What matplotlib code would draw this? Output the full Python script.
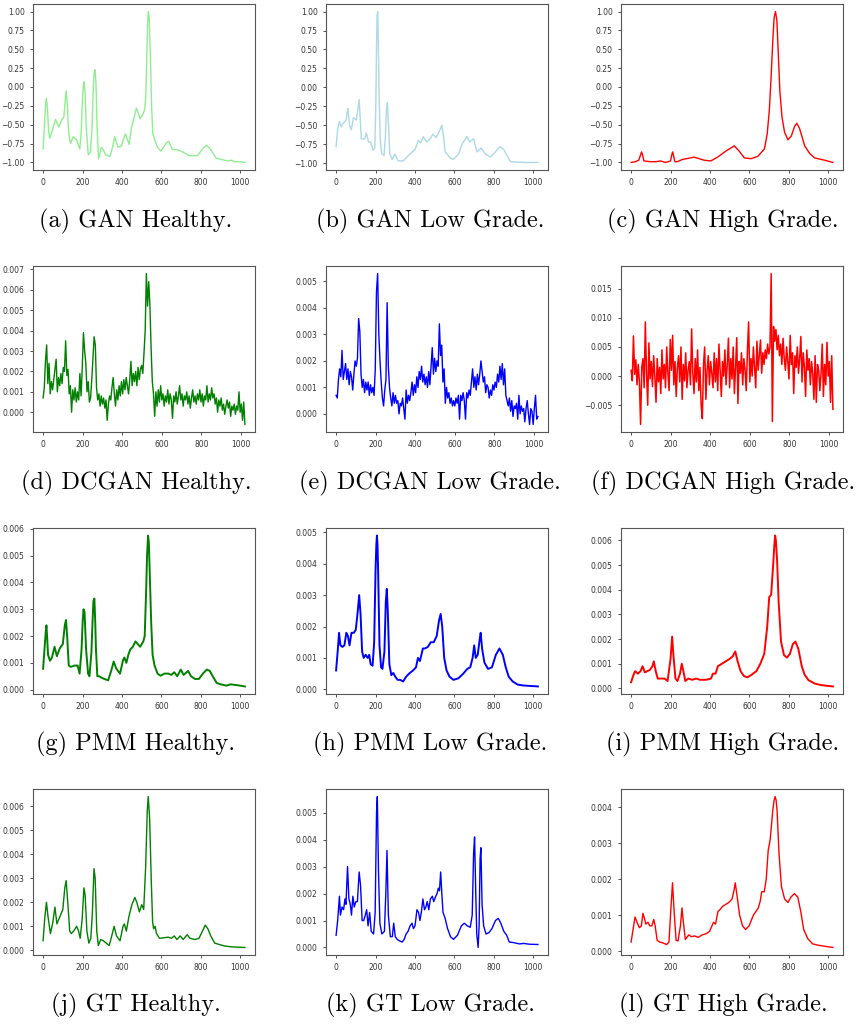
"""
Spectra comparison grid: GAN / DCGAN / PMM / ground truth for
healthy, low grade and high grade samples.
"""

import matplotlib
matplotlib.use("Agg")
import matplotlib.pyplot as plt

# ── Row 1: GAN (normalised to [-1, 1]) ─────────────

gan_healthy_x = [0, 8, 13, 17, 22, 28, 34, 50, 63, 80, 97, 105, 111, 117, 123,
                 130, 139, 152, 170, 186, 193, 199, 204, 208, 213, 219, 229,
                 240, 248, 254, 259, 263, 268, 274, 281, 295, 305, 317, 339,
                 352, 363, 380, 397, 417, 436, 447, 460, 473, 492, 508, 515,
                 521, 526, 531, 534, 538, 543, 550, 556, 566, 580, 597, 625,
                 636, 656, 681, 707, 741, 783, 808, 829, 847, 876, 902, 936,
                 956, 969, 1000, 1023]
gan_healthy_y = [-0.82, -0.45, -0.22, -0.15, -0.28, -0.58, -0.68, -0.55,
                 -0.43, -0.53, -0.42, -0.40, -0.22, -0.05, -0.25, -0.62,
                 -0.75, -0.66, -0.70, -0.82, -0.60, -0.20, 0.02, 0.07, -0.08,
                 -0.55, -0.90, -0.86, -0.55, -0.05, 0.18, 0.23, 0.05, -0.55,
                 -0.95, -0.80, -0.83, -0.90, -0.92, -0.80, -0.66, -0.80,
                 -0.78, -0.62, -0.76, -0.55, -0.42, -0.28, -0.42, -0.35,
                 -0.30, -0.10, 0.45, 0.92, 1.00, 0.90, 0.50, -0.25, -0.62,
                 -0.70, -0.80, -0.85, -0.74, -0.72, -0.83, -0.83, -0.86,
                 -0.91, -0.91, -0.82, -0.77, -0.82, -0.94, -0.96, -0.98,
                 -0.97, -0.99, -0.99, -1.00]

gan_low_x = [0, 8, 17, 26, 34, 51, 56, 60, 64, 68, 77, 88, 102, 110, 117, 122,
             128, 145, 153, 165, 175, 187, 196, 201, 205, 208, 211, 214, 218,
             224, 231, 243, 250, 255, 260, 265, 272, 284, 298, 315, 340, 374,
             400, 417, 429, 442, 459, 476, 490, 507, 525, 536, 545, 553, 578,
             595, 621, 638, 663, 677, 697, 714, 735, 757, 782, 808, 830, 850,
             884, 952, 1023]
gan_low_y = [-0.78, -0.55, -0.45, -0.52, -0.48, -0.43, -0.33, -0.28, -0.38,
             -0.50, -0.56, -0.40, -0.43, -0.30, -0.16, -0.40, -0.68, -0.68,
             -0.60, -0.72, -0.72, -0.83, -0.80, -0.30, 0.55, 0.95, 1.00, 0.60,
             -0.10, -0.70, -0.87, -0.90, -0.65, -0.30, -0.20, -0.45, -0.87,
             -0.95, -0.88, -0.97, -0.97, -0.88, -0.82, -0.70, -0.73, -0.65,
             -0.72, -0.68, -0.62, -0.66, -0.57, -0.50, -0.65, -0.85, -0.93,
             -0.95, -0.88, -0.75, -0.65, -0.72, -0.68, -0.85, -0.80, -0.88,
             -0.92, -0.85, -0.78, -0.82, -0.98, -0.99, -0.99]

gan_high_x = [0, 22, 39, 48, 53, 58, 65, 98, 124, 149, 175, 200, 206, 211, 216,
              222, 234, 260, 319, 370, 404, 438, 480, 523, 548, 574, 608, 642,
              676, 690, 701, 710, 718, 725, 732, 739, 746, 754, 765, 778, 795,
              812, 829, 840, 854, 880, 905, 930, 981, 1023]
gan_high_y = [-1.00, -0.99, -0.97, -0.90, -0.86, -0.90, -0.98, -0.99, -0.99,
              -0.98, -1.00, -0.98, -0.90, -0.86, -0.92, -0.99, -0.99, -0.96,
              -0.93, -0.97, -0.98, -0.93, -0.85, -0.78, -0.85, -0.94, -0.95,
              -0.92, -0.82, -0.62, -0.30, 0.15, 0.60, 0.92, 1.00, 0.88, 0.45,
              -0.05, -0.40, -0.60, -0.70, -0.65, -0.52, -0.48, -0.55, -0.78,
              -0.88, -0.94, -0.97, -1.00]

# ── Row 2: DCGAN (noisy, sampled every 6 channels) ─

dcgan_x = list(range(0, 1021, 6))

dcgan_healthy_y = [
    0.0007, 0.0012, 0.0025, 0.0033, 0.0014, 0.0024, 0.0009, 0.0015, 0.0011, 0.0016,
    0.0021, 0.0026, 0.0010, 0.0017, 0.0013, 0.0019, 0.0014, 0.0022, 0.0020, 0.0035,
    0.0018, 0.0021, 0.0009, 0.0013, 0.0000, 0.0011, 0.0006, 0.0012, 0.0005, 0.0010,
    0.0006, 0.0019, 0.0008, 0.0022, 0.0039, 0.0030, 0.0024, 0.0010, 0.0015, 0.0005,
    0.0007, 0.0016, 0.0027, 0.0037, 0.0033, 0.0012, 0.0006, 0.0009, 0.0003, 0.0008,
    0.0004, 0.0007, 0.0002, 0.0006, -0.0004, 0.0004, 0.0008, 0.0006, 0.0012, 0.0017,
    0.0009, 0.0003, 0.0011, 0.0006, 0.0013, 0.0008, 0.0015, 0.0009, 0.0016, 0.0011,
    0.0017, 0.0013, 0.0009, 0.0016, 0.0025, 0.0013, 0.0019, 0.0015, 0.0020, 0.0013,
    0.0022, 0.0016, 0.0021, 0.0023, 0.0019, 0.0029, 0.0040, 0.0068, 0.0052, 0.0064,
    0.0052, 0.0031, 0.0015, 0.0009, -0.0002, 0.0010, 0.0003, 0.0011, 0.0005, 0.0013,
    0.0006, 0.0009, 0.0003, 0.0008, 0.0005, 0.0011, 0.0004, 0.0009, 0.0006, -0.0003,
    0.0008, 0.0005, 0.0010, 0.0004, 0.0008, 0.0013, 0.0006, 0.0009, 0.0003, 0.0008,
    0.0006, 0.0010, 0.0004, 0.0008, 0.0002, 0.0007, 0.0011, 0.0005, 0.0008, 0.0004,
    0.0009, 0.0006, 0.0011, 0.0005, 0.0009, 0.0003, 0.0008, 0.0006, 0.0013, 0.0005,
    0.0009, 0.0006, 0.0012, 0.0007, 0.0009, 0.0004, 0.0007, 0.0000, 0.0006, 0.0003,
    0.0007, 0.0001, 0.0004, -0.0001, 0.0003, 0.0006, 0.0002, 0.0005, -0.0002, 0.0003,
    0.0001, 0.0004, -0.0001, 0.0003, 0.0001, 0.0010, 0.0000, 0.0004, -0.0004, 0.0005,
    -0.0006]

dcgan_low_y = [
    0.0007, 0.0006, 0.0013, 0.0017, 0.0014, 0.0024, 0.0013, 0.0016, 0.0019, 0.0013,
    0.0017, 0.0011, 0.0016, 0.0014, 0.0009, 0.0015, 0.0020, 0.0018, 0.0021, 0.0036,
    0.0031, 0.0015, 0.0010, 0.0013, 0.0008, 0.0012, 0.0009, 0.0012, 0.0007, 0.0011,
    0.0008, 0.0010, 0.0007, 0.0017, 0.0046, 0.0053, 0.0030, 0.0020, 0.0012, 0.0006,
    0.0003, 0.0009, 0.0013, 0.0042, 0.0018, 0.0010, 0.0006, 0.0003, 0.0008, 0.0004,
    0.0007, 0.0004, 0.0005, 0.0000, 0.0004, 0.0003, 0.0006, 0.0002, -0.0002, 0.0009,
    0.0004, 0.0007, 0.0005, 0.0008, 0.0012, 0.0007, 0.0011, 0.0008, 0.0014, 0.0010,
    0.0016, 0.0013, 0.0018, 0.0012, 0.0015, 0.0011, 0.0014, 0.0010, 0.0016, 0.0011,
    0.0018, 0.0025, 0.0015, 0.0021, 0.0016, 0.0020, 0.0018, 0.0034, 0.0022, 0.0026,
    0.0012, 0.0017, 0.0004, 0.0010, 0.0006, 0.0008, 0.0004, 0.0006, 0.0003, 0.0005,
    0.0003, 0.0006, 0.0004, 0.0007, -0.0002, 0.0007, 0.0005, 0.0008, 0.0005, -0.0002,
    0.0008, 0.0006, 0.0009, 0.0007, 0.0012, 0.0017, 0.0010, 0.0014, 0.0009, 0.0015,
    0.0011, 0.0015, 0.0020, 0.0016, 0.0012, 0.0014, 0.0008, 0.0011, 0.0010, 0.0006,
    0.0009, 0.0007, 0.0011, 0.0009, 0.0012, 0.0010, 0.0015, 0.0012, 0.0018, 0.0013,
    0.0019, 0.0011, 0.0017, 0.0007, 0.0005, 0.0003, 0.0006, 0.0001, 0.0005, -0.0001,
    0.0003, 0.0002, 0.0004, -0.0002, 0.0007, 0.0000, 0.0003, 0.0001, 0.0002, -0.0003,
    0.0002, 0.0005, 0.0000, -0.0004, 0.0002, 0.0001, -0.0004, 0.0002, 0.0007, -0.0002,
    -0.0001]

dcgan_high_y = [
    0.0010, -0.0008, 0.0069, 0.0003, 0.0028, -0.0015, 0.0020, -0.0010, -0.0083, 0.0015,
    0.0030, -0.0020, 0.0093, 0.0005, -0.0050, 0.0057, -0.0005, 0.0025, -0.0018, 0.0035,
    0.0000, -0.0045, 0.0030, -0.0010, 0.0015, -0.0030, 0.0045, -0.0005, 0.0020, -0.0020,
    0.0050, 0.0005, -0.0025, 0.0063, 0.0010, 0.0070, -0.0015, 0.0025, -0.0035, 0.0015,
    0.0035, -0.0010, 0.0050, -0.0040, 0.0020, -0.0008, 0.0040, -0.0020, 0.0010, 0.0025,
    -0.0015, 0.0081, 0.0005, -0.0030, 0.0030, -0.0010, 0.0045, -0.0025, 0.0015, -0.0050,
    -0.0073, 0.0020, 0.0050, -0.0040, 0.0010, 0.0035, -0.0015, 0.0025, 0.0005, -0.0020,
    0.0040, -0.0010, 0.0030, -0.0025, 0.0055, 0.0010, -0.0035, 0.0025, 0.0000, 0.0045,
    -0.0015, 0.0020, 0.0065, -0.0020, 0.0030, -0.0005, 0.0050, -0.0030, 0.0015, 0.0066,
    -0.0047, 0.0025, 0.0005, 0.0040, -0.0015, 0.0030, 0.0010, -0.0025, 0.0045, 0.0093,
    -0.0010, 0.0030, 0.0000, 0.0050, 0.0015, -0.0020, 0.0060, 0.0010, 0.0035, 0.0062,
    0.0005, 0.0040, 0.0020, 0.0045, 0.0030, 0.0055, 0.0038, 0.0050, 0.0176, -0.0078,
    0.0085, 0.0060, 0.0080, 0.0045, 0.0070, 0.0035, 0.0055, 0.0020, 0.0065, 0.0030,
    0.0010, 0.0050, 0.0025, -0.0005, 0.0070, 0.0020, 0.0040, -0.0030, 0.0035, 0.0015,
    0.0050, 0.0005, 0.0030, 0.0068, -0.0010, 0.0040, 0.0015, -0.0035, 0.0045, 0.0010,
    0.0030, -0.0015, 0.0025, 0.0005, -0.0040, 0.0035, -0.0045, 0.0020, 0.0010, -0.0025,
    0.0005, 0.0055, -0.0035, 0.0020, -0.0015, 0.0058, 0.0000, 0.0025, -0.0045, 0.0035,
    -0.0057]

# ── Row 3: PMM ─────────────────────────────────────

pmm_healthy_x = [0, 10, 14, 17, 21, 25, 35, 45, 58, 70, 85, 100, 110, 116, 122,
                 130, 140, 160, 175, 185, 195, 201, 205, 210, 214, 218, 228,
                 235, 245, 251, 255, 260, 264, 268, 275, 285, 295, 310, 330,
                 345, 358, 370, 390, 405, 412, 422, 432, 442, 455, 468, 480,
                 492, 508, 515, 522, 527, 532, 536, 540, 548, 555, 565, 580,
                 595, 615, 635, 650, 665, 680, 698, 712, 735, 750, 770, 790,
                 810, 830, 845, 860, 880, 900, 930, 950, 1000, 1023]
pmm_healthy_y = [0.00078, 0.0018, 0.0022, 0.0024, 0.0019, 0.0013, 0.00108,
                 0.0012, 0.0016, 0.00125, 0.00155, 0.0017, 0.0024, 0.0026,
                 0.0020, 0.0009, 0.00085, 0.0009, 0.0009, 0.0006, 0.0015,
                 0.0026, 0.0030, 0.0029, 0.0022, 0.0015, 0.0006, 0.0005,
                 0.0014, 0.0026, 0.0033, 0.0034, 0.0026, 0.0015, 0.0005,
                 0.0005, 0.00045, 0.0004, 0.00035, 0.0007, 0.00105, 0.0008,
                 0.0006, 0.0011, 0.0012, 0.0010, 0.0013, 0.0015, 0.0016,
                 0.0018, 0.0017, 0.0016, 0.0018, 0.0020, 0.0036, 0.0050,
                 0.00575, 0.0055, 0.0045, 0.0025, 0.0013, 0.0009, 0.0006,
                 0.00052, 0.0006, 0.0006, 0.00055, 0.00065, 0.0005, 0.00075,
                 0.00055, 0.0007, 0.0005, 0.0004, 0.0004, 0.0006, 0.00075,
                 0.0007, 0.0005, 0.00025, 0.0002, 0.00015, 0.0002, 0.00015,
                 0.00012]

pmm_low_x = [0, 8, 15, 22, 32, 42, 52, 60, 68, 78, 90, 100, 110, 117, 124,
             132, 140, 150, 160, 168, 175, 185, 193, 200, 204, 207, 210, 213,
             220, 228, 235, 245, 252, 257, 262, 270, 280, 290, 300, 312, 325,
             340, 355, 370, 390, 405, 415, 425, 440, 450, 465, 480, 495, 510,
             522, 530, 538, 548, 560, 575, 595, 620, 645, 665, 680, 692, 700,
             708, 718, 728, 733, 740, 752, 770, 790, 810, 828, 845, 860, 875,
             895, 920, 950, 1000, 1023]
pmm_low_y = [0.0006, 0.0012, 0.0018, 0.0014, 0.00135, 0.0014, 0.0018, 0.0017,
             0.0014, 0.0018, 0.0018, 0.0019, 0.0025, 0.0030, 0.0024, 0.0012,
             0.0010, 0.0011, 0.0010, 0.0011, 0.0008, 0.00075, 0.0015, 0.0038,
             0.0046, 0.0049, 0.0046, 0.0038, 0.0014, 0.0007, 0.00065, 0.0012,
             0.0028, 0.0032, 0.0025, 0.0008, 0.00045, 0.00052, 0.0004, 0.0003,
             0.0003, 0.00025, 0.0004, 0.0005, 0.0006, 0.0007, 0.0010, 0.0009,
             0.0013, 0.0013, 0.00135, 0.0015, 0.0015, 0.0017, 0.0022, 0.0024,
             0.0020, 0.0010, 0.0006, 0.0004, 0.0003, 0.00035, 0.0005, 0.00065,
             0.0007, 0.0010, 0.0014, 0.0010, 0.0011, 0.0016, 0.0018, 0.0013,
             0.00085, 0.00065, 0.0007, 0.0011, 0.0013, 0.0011, 0.0007, 0.0004,
             0.00025, 0.00015, 0.00012, 0.0001, 0.00009]

pmm_high_x = [0, 10, 20, 35, 48, 58, 70, 82, 95, 108, 115, 125, 135, 150, 170,
              185, 200, 208, 215, 225, 235, 248, 257, 265, 275, 290, 310, 330,
              350, 380, 405, 415, 428, 440, 460, 480, 500, 515, 528, 540, 555,
              572, 590, 610, 635, 655, 675, 690, 700, 710, 720, 726, 730, 734,
              740, 748, 760, 775, 790, 805, 820, 833, 848, 865, 880, 900, 930,
              960, 1000, 1023]
pmm_high_y = [0.00025, 0.0005, 0.0007, 0.0006, 0.0007, 0.0009, 0.00065,
              0.0007, 0.00075, 0.0009, 0.0011, 0.0007, 0.0004, 0.0004, 0.0004,
              0.0003, 0.0012, 0.0021, 0.0013, 0.0004, 0.0003, 0.0006, 0.0010,
              0.0007, 0.0003, 0.0004, 0.00035, 0.0004, 0.00035, 0.00035,
              0.0004, 0.0006, 0.0006, 0.0009, 0.0010, 0.0011, 0.0012, 0.0013,
              0.0015, 0.0011, 0.0007, 0.0005, 0.00045, 0.00055, 0.0007, 0.0010,
              0.0014, 0.0025, 0.0037, 0.0038, 0.0050, 0.0058, 0.0062, 0.0060,
              0.0052, 0.0035, 0.0019, 0.00135, 0.00125, 0.0014, 0.0018, 0.0019,
              0.0016, 0.0009, 0.00055, 0.00033, 0.0002, 0.00014, 0.0001,
              0.00008]

# ── Row 4: ground truth ────────────────────────────

gt_healthy_x = [0, 8, 17, 25, 37, 48, 60, 70, 80, 90, 100, 110, 117, 125, 135,
                143, 155, 170, 180, 188, 198, 207, 213, 222, 232, 242, 250, 258,
                264, 272, 280, 292, 305, 320, 335, 348, 360, 372, 390, 405, 412,
                422, 435, 450, 465, 475, 488, 500, 510, 520, 528, 533, 540, 548,
                555, 560, 568, 575, 590, 610, 635, 650, 665, 678, 695, 710, 730,
                745, 770, 790, 808, 822, 835, 850, 870, 890, 920, 950, 990, 1023]
gt_healthy_y = [0.0004, 0.0013, 0.0020, 0.0014, 0.0007, 0.0011, 0.0018, 0.0011,
                0.0013, 0.0015, 0.0017, 0.0026, 0.0029, 0.0020, 0.0008, 0.0007,
                0.0008, 0.0010, 0.0008, 0.0005, 0.0013, 0.0026, 0.0023, 0.0008,
                0.0003, 0.0005, 0.0016, 0.0034, 0.0030, 0.0008, 0.0002, 0.00045,
                0.0004, 0.0003, 0.0002, 0.0006, 0.0010, 0.0006, 0.0004, 0.0010,
                0.0011, 0.0008, 0.0014, 0.0019, 0.0022, 0.0020, 0.0016, 0.0019,
                0.0017, 0.0035, 0.0058, 0.0064, 0.0055, 0.0030, 0.0012, 0.0009,
                0.0010, 0.0007, 0.0005, 0.00052, 0.00055, 0.0005, 0.0006,
                0.00045, 0.0006, 0.00045, 0.00065, 0.0005, 0.00045, 0.0005,
                0.0008, 0.00105, 0.0009, 0.0006, 0.0003, 0.00025, 0.00018,
                0.00015, 0.00013, 0.00012]

gt_low_x = [0, 8, 17, 22, 30, 38, 45, 50, 58, 65, 72, 78, 85, 92, 100, 108,
            117, 124, 132, 140, 148, 155, 162, 170, 178, 190, 198, 205, 209,
            215, 222, 232, 245, 252, 258, 265, 275, 285, 292, 300, 310, 320,
            335, 345, 355, 365, 375, 385, 392, 400, 410, 418, 425, 432, 440,
            448, 455, 462, 470, 478, 488, 495, 505, 512, 518, 524, 530, 536,
            542, 552, 565, 580, 595, 615, 635, 650, 665, 680, 690, 697, 702,
            708, 713, 720, 725, 730, 734, 740, 748, 760, 775, 790, 808, 822,
            835, 850, 865, 878, 900, 930, 950, 980, 1023]
gt_low_y = [0.00045, 0.0010, 0.0019, 0.0012, 0.0015, 0.0014, 0.0018, 0.0016,
            0.0030, 0.0018, 0.0016, 0.0012, 0.0019, 0.0015, 0.0017, 0.0017,
            0.0028, 0.0023, 0.0010, 0.0010, 0.0012, 0.0014, 0.0008, 0.0013,
            0.0006, 0.0005, 0.0013, 0.0050, 0.0056, 0.0028, 0.0009, 0.0005,
            0.0006, 0.0020, 0.0036, 0.0012, 0.0004, 0.0004, 0.0009, 0.0004,
            0.0003, 0.00025, 0.0002, 0.0003, 0.0005, 0.0006, 0.0008, 0.0009,
            0.0007, 0.0008, 0.0014, 0.0013, 0.0010, 0.0013, 0.0018, 0.0014,
            0.0015, 0.0017, 0.0014, 0.0018, 0.0019, 0.0017, 0.0019, 0.0020,
            0.0022, 0.0021, 0.0028, 0.0020, 0.0013, 0.0011, 0.0007, 0.0004,
            0.0003, 0.00045, 0.0008, 0.0009, 0.0008, 0.00075, 0.0012, 0.0035,
            0.0041, 0.0020, 0.0005, 0.0000, 0.0008, 0.0033, 0.0037, 0.0016,
            0.0008, 0.0005, 0.00055, 0.0007, 0.0010, 0.00108, 0.0009, 0.0006,
            0.00045, 0.0002, 0.00018, 0.00013, 0.00015, 0.00012, 0.00011]

gt_high_x = [0, 10, 20, 30, 42, 52, 60, 68, 75, 85, 95, 105, 115, 122, 132,
             145, 165, 180, 192, 202, 210, 217, 228, 238, 250, 258, 265, 275,
             285, 293, 305, 322, 340, 360, 380, 398, 410, 418, 428, 440, 450,
             465, 480, 495, 512, 522, 528, 538, 550, 565, 580, 598, 620, 645,
             655, 662, 675, 685, 695, 705, 718, 725, 730, 735, 740, 750, 762,
             778, 795, 810, 828, 845, 860, 875, 895, 920, 950, 985, 1023]
gt_high_y = [0.00025, 0.0006, 0.00095, 0.0008, 0.00065, 0.0007, 0.00105,
             0.0009, 0.00075, 0.0008, 0.0007, 0.0007, 0.00088, 0.0007, 0.0003,
             0.00025, 0.00022, 0.00018, 0.00025, 0.0012, 0.0019, 0.0012,
             0.0003, 0.00028, 0.0007, 0.0012, 0.0008, 0.00032, 0.0004,
             0.00045, 0.0004, 0.00042, 0.00038, 0.00045, 0.00048, 0.00055,
             0.0007, 0.0008, 0.00075, 0.0011, 0.00115, 0.00125, 0.0013,
             0.00135, 0.00145, 0.0017, 0.0019, 0.0015, 0.0010, 0.0007, 0.0006,
             0.0007, 0.0010, 0.0012, 0.0014, 0.00165, 0.00165, 0.0020, 0.0028,
             0.0031, 0.0039, 0.0042, 0.0043, 0.0042, 0.0039, 0.0027, 0.0018,
             0.00145, 0.00135, 0.0015, 0.0016, 0.0015, 0.0011, 0.0006,
             0.00035, 0.0002, 0.00016, 0.00013, 0.0001]

captions = [
    "(a) GAN Healthy.", "(b) GAN Low Grade.", "(c) GAN High Grade.",
    "(d) DCGAN Healthy.", "(e) DCGAN Low Grade.", "(f) DCGAN High Grade.",
    "(g) PMM Healthy.", "(h) PMM Low Grade.", "(i) PMM High Grade.",
    "(j) GT Healthy.", "(k) GT Low Grade.", "(l) GT High Grade.",
]

panels = [
    (gan_healthy_x, gan_healthy_y, "lightgreen", 1.0),
    (gan_low_x, gan_low_y, "lightblue", 1.0),
    (gan_high_x, gan_high_y, "red", 1.0),
    (dcgan_x, dcgan_healthy_y, "green", 1.0),
    (dcgan_x, dcgan_low_y, "blue", 1.0),
    (dcgan_x, dcgan_high_y, "red", 1.1),
    (pmm_healthy_x, pmm_healthy_y, "green", 1.4),
    (pmm_low_x, pmm_low_y, "blue", 1.4),
    (pmm_high_x, pmm_high_y, "red", 1.4),
    (gt_healthy_x, gt_healthy_y, "green", 1.0),
    (gt_low_x, gt_low_y, "blue", 1.0),
    (gt_high_x, gt_high_y, "red", 1.0),
]

# layout in pixels of the 856x1025 canvas
W, H = 856, 1025
COL_LEFT = [33, 326, 621]
AX_W = 222
ROW_TOP = [4, 266, 528, 789]
AX_H = 166
CAP_X = [136, 430, 723]
CAP_Y = [221, 483, 744, 1005]

fig = plt.figure(figsize=(W / 100, H / 100), dpi=100)
fig.patch.set_facecolor("white")

for i, (xs, ys, color, lw) in enumerate(panels):
    r, c = divmod(i, 3)
    ax = fig.add_axes([COL_LEFT[c] / W, 1 - (ROW_TOP[r] + AX_H) / H,
                       AX_W / W, AX_H / H])
    ax.plot(xs, ys, color=color, linewidth=lw)
    ax.set_xticks([0, 200, 400, 600, 800, 1000])
    ax.tick_params(labelsize=5.5, colors="#333333", length=2.5, width=0.6)
    for sp in ax.spines.values():
        sp.set_color("#555555")
        sp.set_linewidth(0.8)
    fig.text(CAP_X[c] / W, 1 - CAP_Y[r] / H, captions[i],
             family="cmr10", fontsize=17.5, ha="center", va="center")

fig.savefig("out.png", dpi=100, facecolor="white")
